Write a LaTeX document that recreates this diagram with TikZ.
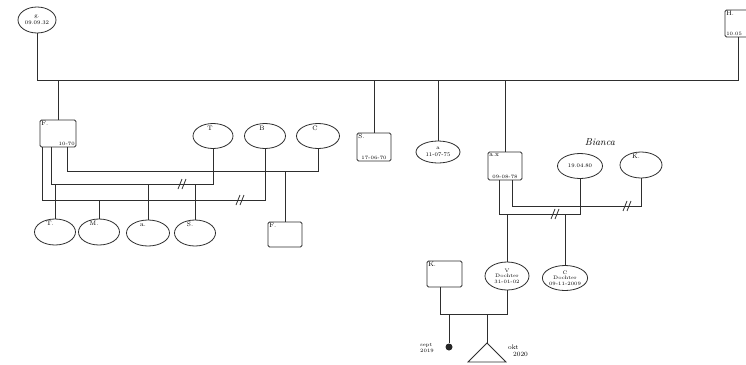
\documentclass[tikz,border=0pt]{standalone}
\usetikzlibrary{shapes.geometric,calc}
\begin{document}
\begin{tikzpicture}[x=1pt,y=-1pt]
\tikzset{
  gline/.style={draw=black!82,line width=0.8pt},
  fem/.style={ellipse,gline,inner sep=0pt,minimum width=42pt,minimum height=25pt,align=center,font=\fontsize{5}{5.6}\selectfont},
  mal/.style={rectangle,rounded corners=1.5pt,gline,inner sep=0pt,minimum width=35pt,minimum height=27pt},
  nm/.style={font=\fontsize{6.5}{7}\selectfont,inner sep=1.5pt},
  dt/.style={font=\fontsize{5}{5.5}\selectfont,inner sep=1.5pt},
  divmark/.pic={\draw[gline] (-4,5)--(0,-5) (0,5)--(4,-5);}
}
\useasboundingbox[fill=white] (0,0) rectangle (746,364);

% generation 1
\node[fem,minimum width=38pt,minimum height=26pt,font=\fontsize{5.5}{6.5}\selectfont] (g) at (37,20) {g.\\09.09.32};
\node[mal,minimum width=26pt,minimum height=27pt,
  label={[nm,anchor=north west]north west:H.},
  label={[dt,anchor=south west]south west:10.05}] (H) at (738,23.5) {};
\coordinate (L) at (0,80);
\draw[gline] (g.south) -- (g.south |- L) -- (H.south |- L) -- (H.south);

% generation 2
\node[mal,minimum width=36pt,
  label={[nm,anchor=north west]north west:F.},
  label={[dt,anchor=south east]south east:10-70}] (F) at (58,133.5) {};
\node[mal,minimum width=34pt,minimum height=28pt,
  label={[nm,anchor=north west]north west:S.},
  label={[dt,anchor=south]south:17-06-70}] (S) at (374,147) {};
\node[fem,minimum width=44pt,minimum height=22pt,font=\fontsize{5.5}{6.5}\selectfont] (a) at (438,152) {a\\11-07-75};
\node[mal,minimum width=34pt,minimum height=28pt,
  label={[nm,anchor=north west]north west:a.x},
  label={[dt,anchor=south]south:09-08-78}] (ax) at (505,166) {};
\foreach \n in {F,S,a,ax} \draw[gline] (\n.north |- L) -- (\n.north);

% partners of F.
\node[fem,minimum width=40pt] (T) at (213,136) {};
\node[nm] at ($(T.north)+(-3,5)$) {T};
\node[fem,minimum width=41pt] (B) at (265,136) {};
\node[nm] at ($(B.north)+(-3,5)$) {B};
\node[fem,minimum width=43pt] (C) at (318,136) {};
\node[nm] at ($(C.north)+(-3,5)$) {C};

\coordinate (yC) at (0,171);
\coordinate (yT) at (0,184);
\coordinate (yB) at (0,200);
\draw[gline] ($(F.south)+(9,0)$) |- (C.south |- yC) -- (C.south);
\draw[gline] ($(F.south)+(-7,0)$) |- (T.south |- yT) -- (T.south);
\draw[gline] ($(F.south)+(-16,0)$) |- (B.south |- yB) -- (B.south);
\pic at (182,184) {divmark};
\pic at (240,200) {divmark};

% children of F.
\node[fem,minimum width=41pt,minimum height=26pt] (tc) at (55,232) {};
\node[nm] at ($(tc.north)+(-5,5)$) {T.};
\node[fem,minimum width=41pt,minimum height=26pt] (mc) at (99,232) {};
\node[nm] at ($(mc.north)+(-5,5)$) {M.};
\node[fem,minimum width=43pt,minimum height=26pt] (qc) at (148,233) {};
\node[nm] at ($(qc.north)+(-5,5)$) {a.};
\node[fem,minimum width=41pt,minimum height=26pt] (sc) at (195,233) {};
\node[nm] at ($(sc.north)+(-5,5)$) {S.};
\node[mal,minimum width=34pt,minimum height=25pt,
  label={[nm,anchor=north west]north west:F.}] (fc) at (285,234.5) {};
\draw[gline] (tc.north |- yT) -- (tc.north);
\draw[gline] (qc.north |- yT) -- (qc.north);
\draw[gline] (sc.north |- yT) -- (sc.north);
\draw[gline] (mc.north |- yB) -- (mc.north);
\draw[gline] (fc.north |- yC) -- (fc.north);

% partners of a.x
\node[fem,minimum width=45pt,font=\fontsize{5.5}{6.5}\selectfont] (Bi) at (580,166) {19.04.80};
\node[font=\itshape\fontsize{10}{10}\selectfont,inner sep=0pt] (bn) at (600,142) {Bianca};
\node[fem,minimum width=42pt,minimum height=26pt] (K) at (641,165) {};
\node[nm] at ($(K.north)+(-5,5)$) {K.};
\coordinate (yK1) at (0,206);
\coordinate (yBi) at (0,214);
\draw[gline] ($(ax.south)+(7,0)$) |- (K.south |- yK1) -- (K.south);
\draw[gline] ($(ax.south)+(-6,0)$) |- (Bi.south |- yBi) -- (Bi.south);
\pic at (627,206) {divmark};
\pic at (555,214) {divmark};

% children of a.x and Bianca
\node[fem,minimum width=44pt,minimum height=28pt] (V) at (507,276) {V\\Dochter\\31-01-02};
\node[fem,minimum width=45pt,minimum height=25pt] (Cd) at (565,278) {C\\Dochter\\09-11-2009};
\draw[gline] (V.north |- yBi) -- (V.north);
\draw[gline] (Cd.north |- yBi) -- (Cd.north);

% K. and V
\node[mal,minimum width=35pt,minimum height=26pt,
  label={[nm,anchor=north west]north west:K.}] (Kb) at (444.5,274) {};
\coordinate (yKV) at (0,314);
\draw[gline] ($(Kb.south)+(-4,0)$) |- (V.south |- yKV) -- (V.south);

% grandchildren
\node[circle,fill=black!85,inner sep=0pt,minimum size=7pt] (dot) at (449,347) {};
\draw[gline] (dot |- yKV) -- (dot);
\coordinate (tri) at (487,343);
\draw[gline] (tri |- yKV) -- (tri);
\draw[gline] (tri) -- ++(-19,19) -- ++(38,0) -- cycle;
\node[dt,align=left] (sept) at (427,348) {sept\\2019};
\node[nm,align=left] (okt) at (518,351) {okt\\\hspace*{5pt}2020};
\end{tikzpicture}
\end{document}
